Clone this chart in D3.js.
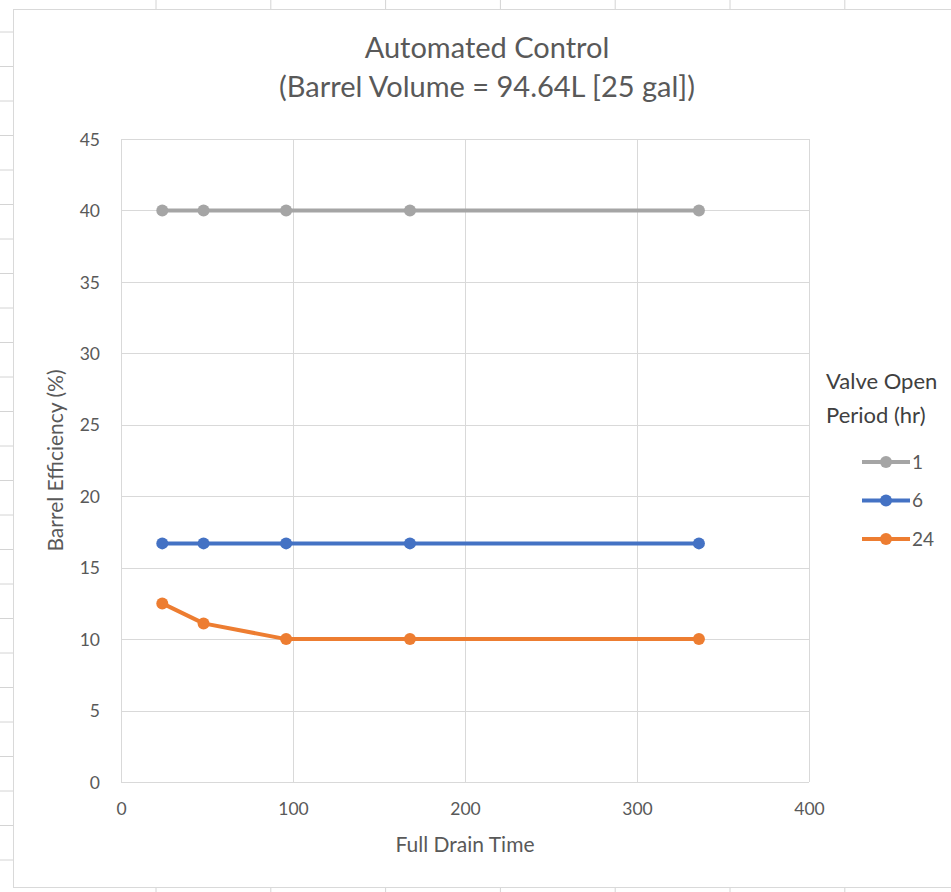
<!DOCTYPE html>
<html>
<head>
<meta charset="utf-8">
<script src="https://cdn.jsdelivr.net/npm/d3@7"></script>
<style>
  html, body { margin: 0; padding: 0; background: #fff; }
  svg { display: block; font-family: Lato, "Open Sans", "Liberation Sans", sans-serif; }
</style>
</head>
<body>
<svg id="chart" width="951" height="892"></svg>
<script>
// Full drain time (hours) at which each case was evaluated
const drainTimes = [24, 48, 96, 168, 336];

// Valve open period series (hr)
const seriesNames = ["1", "6", "24"];
const eff1hr  = [40, 40, 40, 40, 40];
const eff6hr  = [16.7, 16.7, 16.7, 16.7, 16.7];
const eff24hr = [12.5, 11.1, 10, 10, 10];
const seriesColors = ["#A5A5A5", "#4472C4", "#ED7D31"];

// Axis ticks
const xTicks = [0, 100, 200, 300, 400];
const yTicks = [0, 5, 10, 15, 20, 25, 30, 35, 40, 45];

const series = [
  { name: seriesNames[0], values: eff1hr,  color: seriesColors[0] },
  { name: seriesNames[1], values: eff6hr,  color: seriesColors[1] },
  { name: seriesNames[2], values: eff24hr, color: seriesColors[2] }
];

const svg = d3.select("#chart");
const textColor = "#595959";
const gridColor = "#D9D9D9";

// Worksheet cell lines visible around the chart object
const sheet = svg.append("g").attr("stroke", "#D4D4D4").attr("stroke-width", 1);
d3.range(156, 951, 114.8).forEach(x => {
  sheet.append("line").attr("x1", x).attr("x2", x).attr("y1", 0).attr("y2", 9);
  sheet.append("line").attr("x1", x).attr("x2", x).attr("y1", 888).attr("y2", 892);
});
d3.range(32, 892, 34.5).forEach(y => {
  sheet.append("line").attr("x1", 0).attr("x2", 13).attr("y1", y).attr("y2", y);
});

// Chart object frame
svg.append("rect")
  .attr("x", 13.5).attr("y", 9.5).attr("width", 960).attr("height", 878)
  .attr("fill", "#fff").attr("stroke", "#D9D9D9").attr("stroke-width", 1);

const plot = { left: 121, right: 809, top: 139, bottom: 782 };

const x = d3.scaleLinear().domain([0, 400]).range([plot.left, plot.right]);
const y = d3.scaleLinear().domain([0, 45]).range([plot.bottom, plot.top]);

// Gridlines
const grid = svg.append("g");
grid.selectAll("line.h").data(yTicks).join("line")
  .attr("x1", plot.left).attr("x2", plot.right)
  .attr("y1", d => Math.round(y(d)) + 0.5).attr("y2", d => Math.round(y(d)) + 0.5)
  .attr("stroke", gridColor).attr("stroke-width", 1);
grid.selectAll("line.v").data(xTicks).join("line")
  .attr("y1", plot.top).attr("y2", plot.bottom)
  .attr("x1", d => Math.round(x(d)) + 0.5).attr("x2", d => Math.round(x(d)) + 0.5)
  .attr("stroke", gridColor).attr("stroke-width", 1);

// Axes (labels only, lines come from the grid)
const xAxis = svg.append("g")
  .attr("transform", `translate(0,${plot.bottom + 12})`)
  .call(d3.axisBottom(x).tickValues(xTicks).tickSize(0).tickPadding(9));
const yAxis = svg.append("g")
  .attr("transform", `translate(${plot.left - 14},0)`)
  .call(d3.axisLeft(y).tickValues(yTicks).tickSize(0).tickPadding(7));
[xAxis, yAxis].forEach(a => {
  a.select(".domain").remove();
  a.selectAll("text").attr("fill", textColor).style("font-size", "17.5px")
    .style("font-family", "Lato, 'Open Sans', sans-serif");
});
yAxis.selectAll("text").attr("dy", "0.35em");

// Lines and markers
const line = d3.line().x((d, i) => x(drainTimes[i])).y(d => y(d));
series.forEach(s => {
  const g = svg.append("g");
  g.append("path").datum(s.values)
    .attr("d", line).attr("fill", "none")
    .attr("stroke", s.color).attr("stroke-width", 4)
    .attr("stroke-linejoin", "round").attr("stroke-linecap", "round");
  g.selectAll("circle").data(s.values).join("circle")
    .attr("cx", (d, i) => x(drainTimes[i])).attr("cy", d => y(d))
    .attr("r", 6).attr("fill", s.color);
});

// Title
const title = svg.append("text")
  .attr("text-anchor", "middle")
  .attr("fill", textColor).style("font-size", "29px");
title.append("tspan").attr("x", 487).attr("y", 58).text("Automated Control");
title.append("tspan").attr("x", 487).attr("y", 97).text("(Barrel Volume = 94.64L [25 gal])");

// Axis titles
svg.append("text")
  .attr("x", x(200)).attr("y", 852).attr("text-anchor", "middle")
  .attr("fill", textColor).style("font-size", "21px")
  .text("Full Drain Time");
svg.append("text")
  .attr("transform", `translate(63,${(plot.top + plot.bottom) / 2}) rotate(-90)`)
  .attr("text-anchor", "middle")
  .attr("fill", textColor).style("font-size", "21px")
  .text("Barrel Efficiency (%)");

// Legend
const legend = svg.append("g");
const lt = legend.append("text").attr("fill", "#404040").style("font-size", "22px");
lt.append("tspan").attr("x", 826).attr("y", 389).text("Valve Open");
lt.append("tspan").attr("x", 826).attr("y", 423).text("Period (hr)");
series.forEach((s, i) => {
  const ly = 462 + i * 38.5;
  legend.append("line")
    .attr("x1", 862).attr("x2", 910).attr("y1", ly).attr("y2", ly)
    .attr("stroke", s.color).attr("stroke-width", 4);
  legend.append("circle").attr("cx", 886).attr("cy", ly).attr("r", 6).attr("fill", s.color);
  legend.append("text")
    .attr("x", 912).attr("y", ly).attr("dy", "0.35em")
    .attr("fill", textColor).style("font-size", "19px")
    .text(s.name);
});
</script>
</body>
</html>
